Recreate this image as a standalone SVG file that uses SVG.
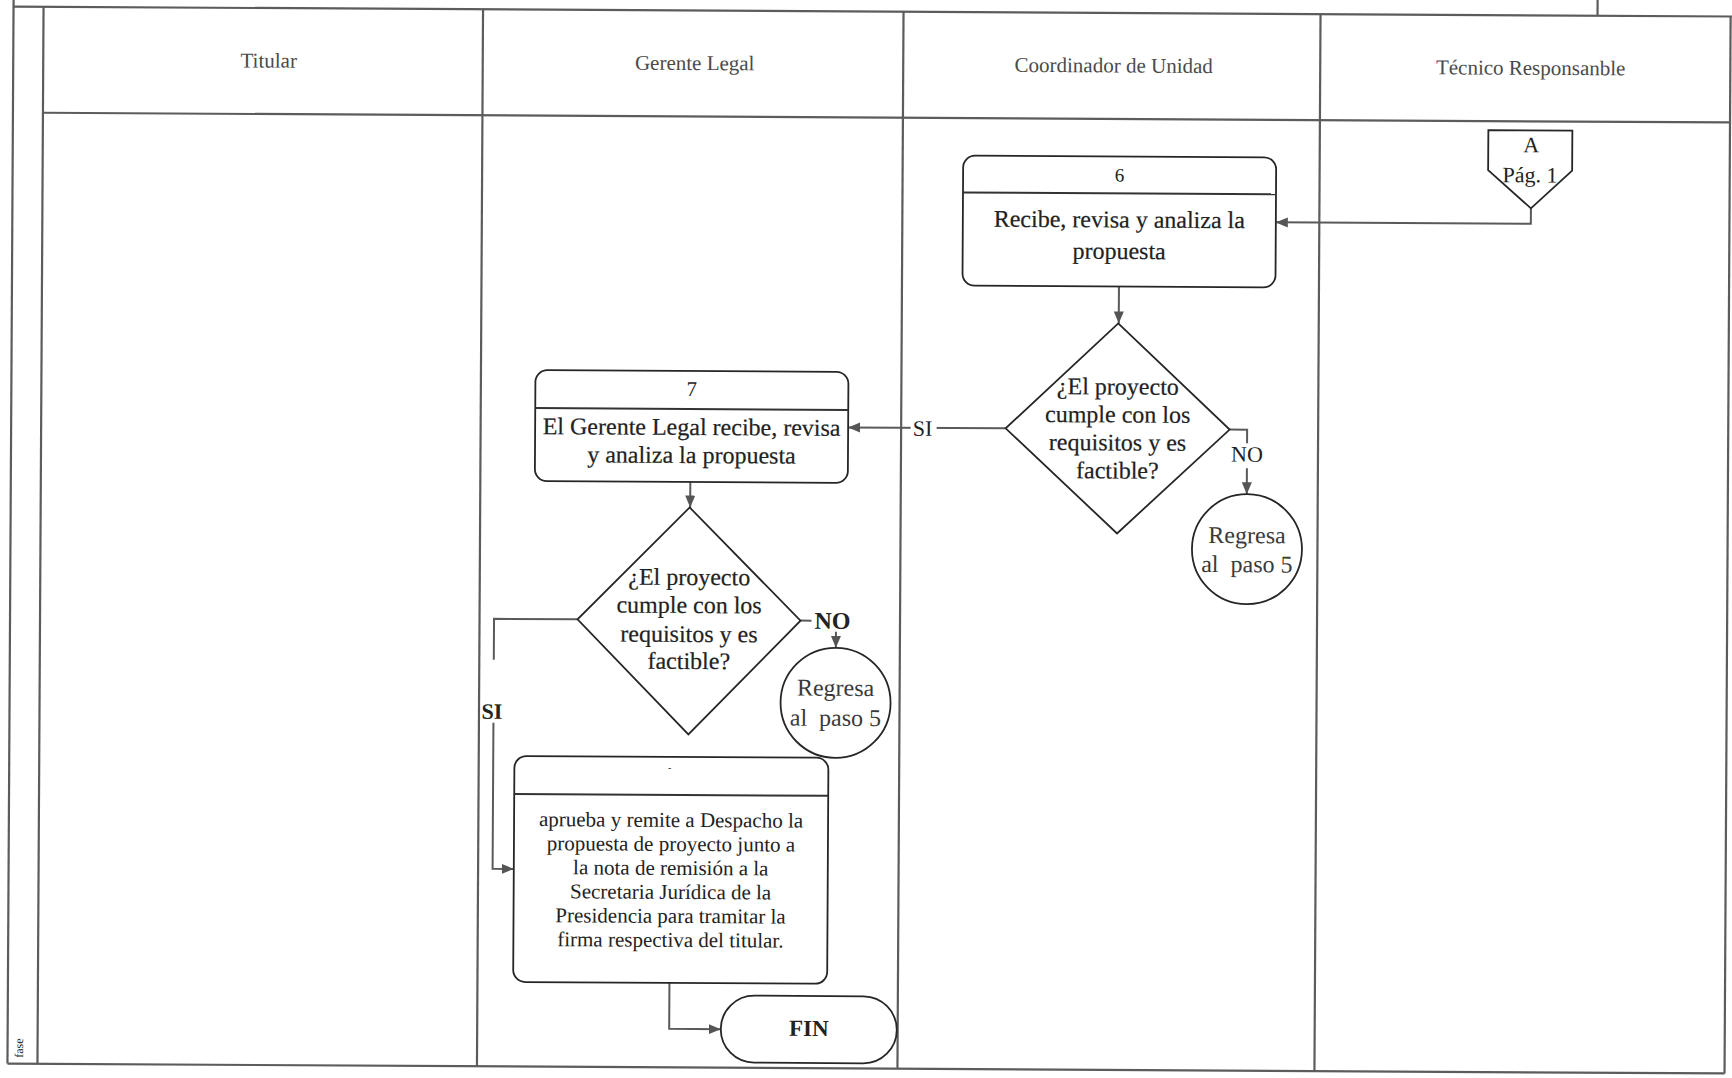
<svg xmlns="http://www.w3.org/2000/svg" width="1732" height="1078" viewBox="0 0 1732 1078">
  <style>
    text { font-family: "Liberation Serif", "Times New Roman", serif; fill: #222; }
    .hdr { font-size: 21px; fill: #4a4a4a; text-anchor: middle; }
    .grid { stroke: #5c5c5c; stroke-width: 2.2; fill: none; }
    .shape { fill: #fff; stroke: #262626; stroke-width: 1.8; }
    .sep { stroke: #333; stroke-width: 2; }
    .num { font-size: 19px; text-anchor: middle; }
    .t24 { font-size: 24px; text-anchor: middle; stroke: #222; stroke-width: 0.2; }
    .t21 { font-size: 21px; text-anchor: middle; }
    .circ { font-size: 24px; text-anchor: middle; fill: #3a3a3a; white-space: pre; }
    .lbl { font-size: 22px; text-anchor: middle; }
    .lblb { font-size: 24px; text-anchor: middle; font-weight: bold; }
    .conn { stroke: #5a5a5a; stroke-width: 2; fill: none; }
    .arrow { marker-end: url(#arr); }
  </style>
  <defs>
    <marker id="arr" viewBox="0 0 10 10" refX="10" refY="5" markerWidth="12" markerHeight="12" markerUnits="userSpaceOnUse" orient="auto">
      <path d="M0,0.8 L10,5 L0,9.2 z" fill="#555"/>
    </marker>
  </defs>

  <rect x="0" y="0" width="1732" height="1078" fill="#fff"/>

  <!-- the scanned sheet sits slightly tilted -->
  <g transform="rotate(0.33 866 539)">

    <!-- swimlane table -->
    <g id="table">
      <line class="grid" x1="10.5" y1="-12" x2="10.5" y2="1068.5"/>
      <line class="grid" x1="40.5" y1="11.5" x2="40.5" y2="1068.5"/>
      <line class="grid" x1="10.5" y1="11.5" x2="1745" y2="11.5"/>
      <line class="grid" x1="1594.5" y1="-12" x2="1594.5" y2="11.5"/>
      <line class="grid" x1="40.5" y1="117.5" x2="1727.6" y2="117.5"/>
      <line class="grid" x1="10.5" y1="1068.5" x2="1727.6" y2="1068.5"/>
      <line class="grid" x1="1727.6" y1="11.5" x2="1727.6" y2="1068.5"/>
      <line class="grid" x1="480" y1="11.5" x2="480" y2="1068.5"/>
      <line class="grid" x1="900.5" y1="11.5" x2="900.5" y2="1068.5"/>
      <line class="grid" x1="1317.5" y1="11.5" x2="1317.5" y2="1068.5"/>
      <text x="26" y="1053" font-size="12" text-anchor="middle" fill="#555" transform="rotate(-90 26 1053)">fase</text>
    </g>

    <!-- lane titles -->
    <g id="lanes">
      <text class="hdr" x="266" y="71">Titular</text>
      <text class="hdr" x="692" y="71">Gerente Legal</text>
      <text class="hdr" x="1111" y="71">Coordinador de Unidad</text>
      <text class="hdr" x="1528" y="71">Técnico Responsanble</text>
    </g>

    <!-- connectors -->
    <g id="connectors">
      <path class="conn arrow" d="M1529,204.5 V220 H1274"/>
      <path class="conn arrow" d="M1117.5,285 V322"/>
      <path class="conn arrow" d="M1005,427.5 H847.5"/>
      <path class="conn" d="M1229,427.5 H1246.5 V441"/>
      <path class="conn arrow" d="M1246.5,466 V492"/>
      <path class="conn arrow" d="M690,483 V508.5"/>
      <path class="conn" d="M578,621 H494.5 V662"/>
      <path class="conn arrow" d="M494.5,725 V871 H515.7"/>
      <path class="conn" d="M801,621 H812"/>
      <path class="conn arrow" d="M836.5,632 V648"/>
      <path class="conn arrow" d="M672,984 V1030 H723.6"/>
      <!-- branch labels -->
      <rect x="910" y="416" width="26" height="24" fill="#fff"/>
      <text class="lbl" x="922" y="435.5">SI</text>
      <text class="lbl" x="1246.5" y="459.5">NO</text>
      <text class="lblb" x="493" y="721" style="font-size:22px">SI</text>
      <text class="lblb" x="833" y="629">NO</text>
    </g>

    <!-- off-page connector A -->
    <g id="offpage-A">
      <path class="shape" d="M1486,126.5 H1570 V166.5 L1529,204.5 L1486,166.5 Z"/>
      <text class="lbl" x="1529" y="148.5">A</text>
      <text class="lbl" x="1528" y="178.5">Pág. 1</text>
    </g>

    <!-- step 6 -->
    <g id="step-6">
      <rect class="shape" x="961" y="155" width="313" height="130" rx="12"/>
      <line class="sep" x1="961" y1="192" x2="1274" y2="192"/>
      <text class="num" x="1117.5" y="180">6</text>
      <text class="t24" x="1117.5" y="226">Recibe, revisa y analiza la</text>
      <text class="t24" x="1117.5" y="257.5">propuesta</text>
    </g>

    <!-- decision after step 6 -->
    <g id="decision-1">
      <path class="shape" d="M1117,322 L1229,427.5 L1117,532 L1005,427.5 Z"/>
      <text class="t24" x="1117" y="393">¿El proyecto</text>
      <text class="t24" x="1117" y="421">cumple con los</text>
      <text class="t24" x="1117" y="449">requisitos y es</text>
      <text class="t24" x="1117" y="477">factible?</text>
    </g>

    <!-- return to step 5 -->
    <g id="return-1">
      <circle class="shape" cx="1247" cy="547" r="55"/>
      <text class="circ" x="1247" y="541">Regresa</text>
      <text class="circ" x="1247" y="570">al  paso 5</text>
    </g>

    <!-- step 7 -->
    <g id="step-7">
      <rect class="shape" x="534.5" y="372" width="313" height="111" rx="12"/>
      <line class="sep" x1="534.5" y1="410" x2="847.5" y2="410"/>
      <text class="num" x="691" y="397" style="font-size:21px">7</text>
      <text class="t24" x="691" y="436">El Gerente Legal recibe, revisa</text>
      <text class="t24" x="691" y="464">y analiza la propuesta</text>
    </g>

    <!-- decision after step 7 -->
    <g id="decision-2">
      <path class="shape" d="M689.5,508.5 L801,621 L689.5,735.5 L578,621 Z"/>
      <text class="t24" x="689.5" y="586">¿El proyecto</text>
      <text class="t24" x="689.5" y="614">cumple con los</text>
      <text class="t24" x="689.5" y="643">requisitos y es</text>
      <text class="t24" x="689.5" y="670">factible?</text>
    </g>

    <!-- return to step 5 -->
    <g id="return-2">
      <circle class="shape" cx="836.5" cy="703" r="55"/>
      <text class="circ" x="836.5" y="696">Regresa</text>
      <text class="circ" x="836.5" y="726">al  paso 5</text>
    </g>

    <!-- step 8 -->
    <g id="step-8">
      <rect class="shape" x="515.7" y="758" width="314" height="226" rx="12"/>
      <line class="sep" x1="515.7" y1="796" x2="829.7" y2="796"/>
      <text x="671" y="772" font-size="10" text-anchor="middle" fill="#777">-</text>
      <text class="t21" x="672.7" y="828">aprueba y remite a Despacho la</text>
      <text class="t21" x="672.7" y="852">propuesta de proyecto junto a</text>
      <text class="t21" x="672.7" y="876">la nota de remisión a la</text>
      <text class="t21" x="672.7" y="900">Secretaria Jurídica de la</text>
      <text class="t21" x="672.7" y="924">Presidencia para tramitar la</text>
      <text class="t21" x="672.7" y="948">firma respectiva del titular.</text>
    </g>

    <!-- end -->
    <g id="fin">
      <rect class="shape" x="723.6" y="996.3" width="176" height="67" rx="33.5"/>
      <text x="811.6" y="1036.3" font-size="23" font-weight="bold" text-anchor="middle">FIN</text>
    </g>
  </g>
</svg>
